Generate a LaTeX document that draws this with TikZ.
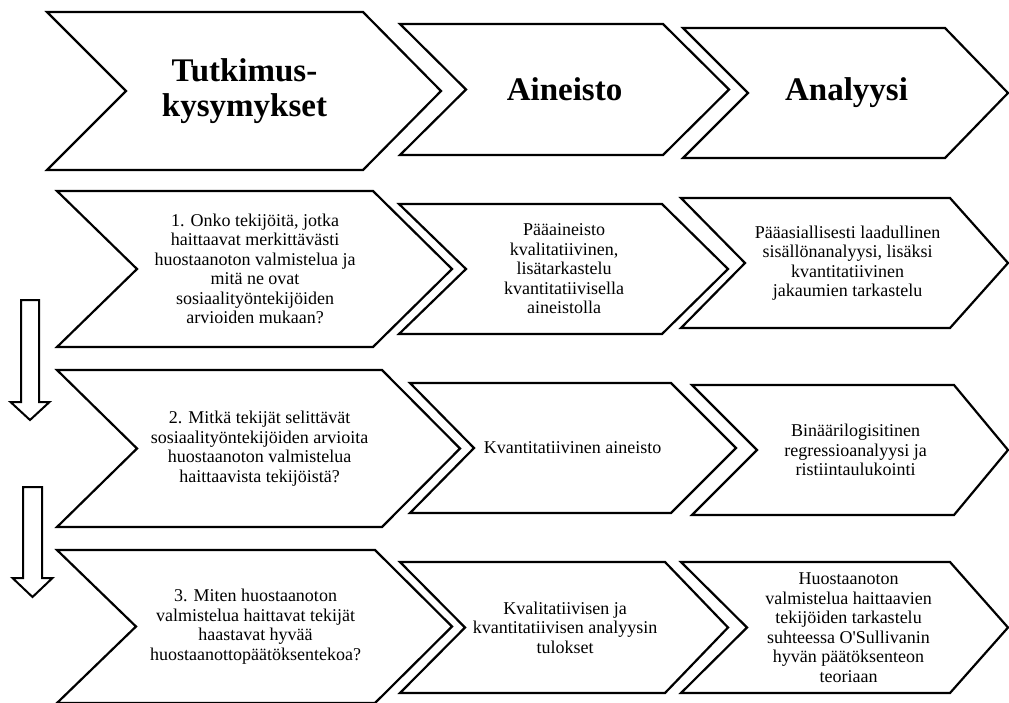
\documentclass[tikz,border=0pt]{standalone}
\usepackage{fontspec}
\setmainfont{Liberation Serif}
\newfontfamily\rawfont{Liberation Serif}[Ligatures=TeXOff]
\tikzset{
  chev/.style={draw=black, line width=2.2pt, fill=white, line join=miter},
  bodytext/.style={align=center, font=\fontsize{18}{19.5}\selectfont, inner sep=0pt},
  headtext/.style={align=center, font=\fontsize{33}{35}\selectfont\bfseries, inner sep=0pt},
  downarrowshape/.style={draw=black, line width=2pt, fill=white, line join=miter}
}
% #1 left x, #2 notch x, #3 top-right x, #4 tip x, #5 top y, #6 bottom y, #7 name, #8 style, #9 text
\newcommand{\chevron}[9]{%
  \filldraw[chev] (#1,#5) -- (#3,#5) -- (#4,{(#5+#6)/2}) -- (#3,#6) -- (#1,#6) -- (#2,{(#5+#6)/2}) -- cycle;
  \node[#8] (#7) at ({(#2+#3)/2},{(#5+#6)/2}) {#9};
}
% #1 centre x, #2 half shaft width, #3 half head width, #4 top y, #5 head base y, #6 tip y
\newcommand{\hollowdown}[6]{%
  \draw[downarrowshape] ({#1-#2},#4) -- ({#1-#2},#5) -- ({#1-#3},#5) -- (#1,#6) -- ({#1+#3},#5) -- ({#1+#2},#5) -- ({#1+#2},#4) -- cycle;
}
\begin{document}
\begin{tikzpicture}[x=1pt,y=-1pt]
\fill[white] (0,0) rectangle (1009,702);
\useasboundingbox (0,0) rectangle (1009,702);
% header row
\chevron{47}{126}{363}{441}{12}{170}{h1}{headtext}{Tutkimus-\\kysymykset}
\chevron{400}{466}{663}{729}{24}{155}{h2}{headtext}{Aineisto}
\chevron{683}{748}{945}{1008}{28}{158}{h3}{headtext}{Analyysi}
% row 1
\chevron{57}{137}{373}{452}{191}{347}{q1}{bodytext}{1. Onko tekijöitä, jotka\\haittaavat merkittävästi\\huostaanoton valmistelua ja\\mitä ne ovat\\sosiaalityöntekijöiden\\arvioiden mukaan?}
\chevron{399}{466}{662}{728}{204}{334}{a1}{bodytext}{Pääaineisto\\kvalitatiivinen,\\lisätarkastelu\\kvantitatiivisella\\aineistolla}
\chevron{681}{745}{950}{1008}{198}{328}{m1}{bodytext}{Pääasiallisesti laadullinen\\sisällönanalyysi, lisäksi\\kvantitatiivinen\\jakaumien tarkastelu}
% row 2
\chevron{57}{137}{382}{460}{370}{527}{q2}{bodytext}{2. Mitkä tekijät selittävät\\sosiaalityöntekijöiden arvioita\\huostaanoton valmistelua\\haittaavista tekijöistä?}
\chevron{410}{474}{671}{736}{383}{513}{a2}{bodytext}{Kvantitatiivinen aineisto}
\chevron{692}{757}{954}{1008}{385}{515}{m2}{bodytext}{Binäärilogisitinen\\regressioanalyysi ja\\ristiintaulukointi}
% row 3
\chevron{57}{136}{375}{452}{550}{703}{q3}{bodytext}{3. Miten huostaanoton\\valmistelua haittavat tekijät\\haastavat hyvää\\huostaanottopäätöksentekoa?}
\chevron{400}{465}{665}{728}{562}{693}{a3}{bodytext}{Kvalitatiivisen ja\\kvantitatiivisen analyysin\\tulokset}
\chevron{681}{747}{950}{1008}{562}{693}{m3}{bodytext}{Huostaanoton\\valmistelua haittaavien\\tekijöiden tarkastelu\\suhteessa O{\rawfont'}Sullivanin\\hyvän päätöksenteon\\teoriaan}
% hollow down arrows
\hollowdown{30}{9}{19.5}{300}{402}{420}
\hollowdown{32.5}{9.5}{20}{487}{578}{597}
\end{tikzpicture}
\end{document}
